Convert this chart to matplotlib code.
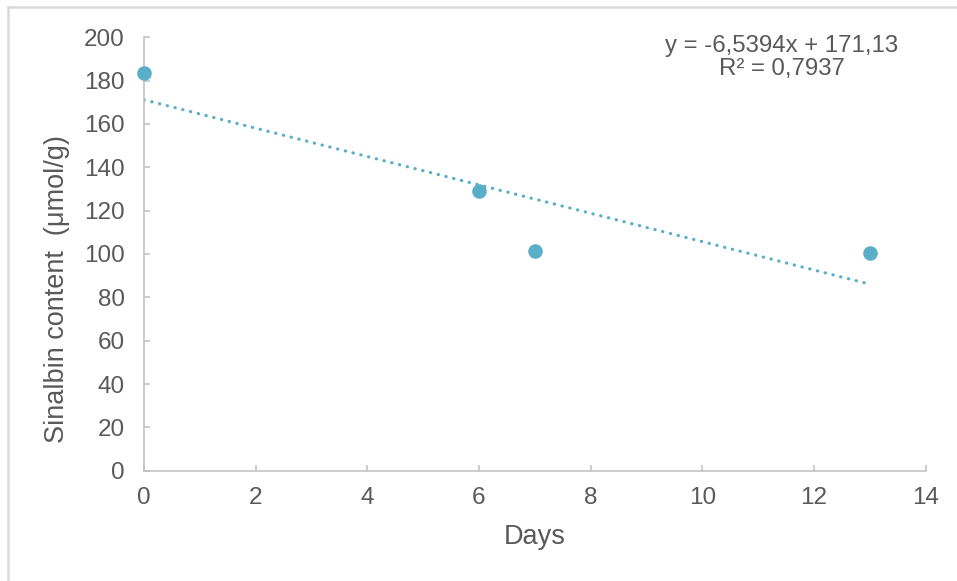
# Sinalbin content vs. days, Excel-style scatter with a linear trendline
import matplotlib

matplotlib.use("Agg")
import matplotlib.pyplot as plt
import numpy as np
from matplotlib.lines import Line2D

# data
days = [0, 6, 7, 13]
sinalbin = [183.7, 129.3, 101.2, 100.3]
x_ticks = [0, 2, 4, 6, 8, 10, 12, 14]
y_ticks = [0, 20, 40, 60, 80, 100, 120, 140, 160, 180, 200]
trend_label = ["y = -6,5394x + 171,13", "R² = 0,7937"]

point_color = "#5BAEC7"
text_color = "#595959"
axis_color = "#BFBFBF"

plt.rcParams["font.family"] = ["Liberation Sans", "DejaVu Sans"]

dpi = 100
fig = plt.figure(figsize=(9.57, 5.81), dpi=dpi)
fig.patch.set_facecolor("white")

# chart area frame: only the left and top edges are inside the picture
fig.add_artist(Line2D([8 / 957, 8 / 957], [0, 1 - 7 / 581], transform=fig.transFigure,
                      color="#D9D9D9", lw=1.8))
fig.add_artist(Line2D([8 / 957, 1], [1 - 7 / 581, 1 - 7 / 581], transform=fig.transFigure,
                      color="#D9D9D9", lw=1.8))

ax = fig.add_axes([144 / 957, 110.3 / 581, 781.5 / 957, 433.4 / 581])

# linear fit for the dotted trendline
slope, intercept = np.polyfit(days, sinalbin, 1)
xs = np.array([min(days), max(days)])
ax.plot(xs, slope * xs + intercept, color=point_color, lw=2.3,
        linestyle=(0, (0.1, 2.4)), dash_capstyle="round", zorder=2)

ax.plot(days, sinalbin, linestyle="none", marker="o", ms=10.5,
        color=point_color, markeredgewidth=0, zorder=3, clip_on=False)

ax.text(11.42, 190.7, "\n".join(trend_label), ha="center", va="center",
        fontsize=17.3, color=text_color, linespacing=1.05, multialignment="center")

ax.set_xlim(0, 14)
ax.set_ylim(0, 200)
ax.set_xticks(x_ticks)
ax.set_yticks(y_ticks)

for side in ("top", "right"):
    ax.spines[side].set_visible(False)
for side in ("left", "bottom"):
    ax.spines[side].set_color(axis_color)
    ax.spines[side].set_linewidth(1.1)

ax.tick_params(axis="both", direction="in", length=4.3, width=1.1, color=axis_color,
               labelsize=17.5, labelcolor=text_color, pad=14)
ax.tick_params(axis="x", pad=12)

ax.set_xlabel("Days", fontsize=19.5, color=text_color, va="center")
ax.xaxis.set_label_coords(0.5, -0.153)
ax.set_ylabel("Sinalbin content  (μmol/g)", fontsize=19.5, color=text_color, va="center")
ax.yaxis.set_label_coords(-0.111, 0.419)

fig.savefig("out.png", dpi=dpi)
